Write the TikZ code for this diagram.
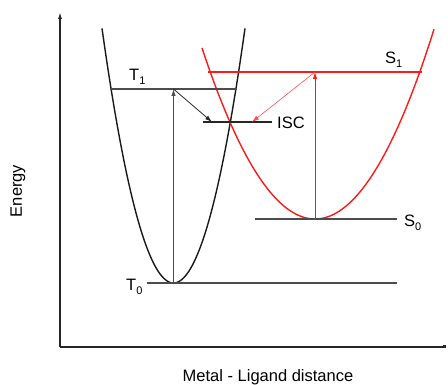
\documentclass[tikz,border=0pt]{standalone}
\usepackage{fontspec}
\setmainfont{Liberation Sans}
\usetikzlibrary{arrows.meta}
\begin{document}
\begin{tikzpicture}[x=1pt,y=-1pt,
  lbl/.style={font=\fontsize{16.5}{19}\selectfont, inner sep=0pt},
  axis/.style={line width=1.3pt, black!85},
  level/.style={line width=1.2pt, black!70},
  rlevel/.style={line width=1.1pt, red!90},
  curveb/.style={line width=1.4pt, black!90},
  curver/.style={line width=1.4pt, red!90},
  arr/.style={-{Latex[length=7pt,width=4.5pt]}, line width=0.8pt}]
\useasboundingbox (0,0) rectangle (448,385);
% axes
\coordinate (O) at (60,347);
\coordinate (Ytop) at (60,12);
\coordinate (Xend) at (446,347);
\draw[axis,-{Latex[length=7pt,width=4pt]}] (O) -- (Ytop);
\draw[axis,-{Square[length=3pt,width=3pt]}] (O) -- (Xend);
\node[lbl, rotate=90] (energy) at (18,191) {Energy};
\node[lbl] (xlabel) at (268,377) {Metal - Ligand distance};
% curves
\draw[curveb] plot[domain=102:245, samples=80] (\x, {283-0.0498*(\x-173.5)^2});
\draw[curver] plot[domain=202:434, samples=80] (\x, {219-0.0134*(\x-315)^2});
% levels
\coordinate (T0a) at (147,283); \coordinate (T0b) at (397,283);
\coordinate (T1a) at (110,89);  \coordinate (T1b) at (237,89);
\coordinate (ISCa) at (203,122); \coordinate (ISCb) at (272,122);
\coordinate (S0a) at (255,219); \coordinate (S0b) at (397,219);
\coordinate (S1a) at (208,72);  \coordinate (S1b) at (422,72);
\draw[level] (T0a) -- (T0b);
\draw[level] (T1a) -- (T1b);
\draw[line width=1.2pt, black!85] (ISCa) -- (ISCb);
\draw[level] (S0a) -- (S0b);
\draw[rlevel] (S1a) -- (S1b);
% arrows
\coordinate (Tv) at (173.5,283); \coordinate (Tt) at (173.5,89);
\coordinate (Tisc) at (212,122);
\coordinate (Sv) at (315,219); \coordinate (St) at (315,72);
\coordinate (Sisc) at (252,122);
\draw[arr, black!70] (Tv) -- (Tt);
\draw[arr, black!85] (Tt) -- (Tisc);
\draw[arr, red!90] (Sv) -- (St);
\draw[arr, red!70, line width=0.6pt] (St) -- (Sisc);
% labels
\node[lbl, anchor=west] (T1) at (129,77) {T\raisebox{-4pt}{\fontsize{11}{11}\selectfont 1}};
\node[lbl, anchor=west] (T0) at (126,287) {T\raisebox{-4pt}{\fontsize{11}{11}\selectfont 0}};
\node[lbl, anchor=west] (S1) at (385,60) {S\raisebox{-4pt}{\fontsize{11}{11}\selectfont 1}};
\node[lbl, anchor=west] (S0) at (404,223) {S\raisebox{-4pt}{\fontsize{11}{11}\selectfont 0}};
\node[lbl, anchor=west] (ISC) at (277,123) {ISC};
\end{tikzpicture}
\end{document}
